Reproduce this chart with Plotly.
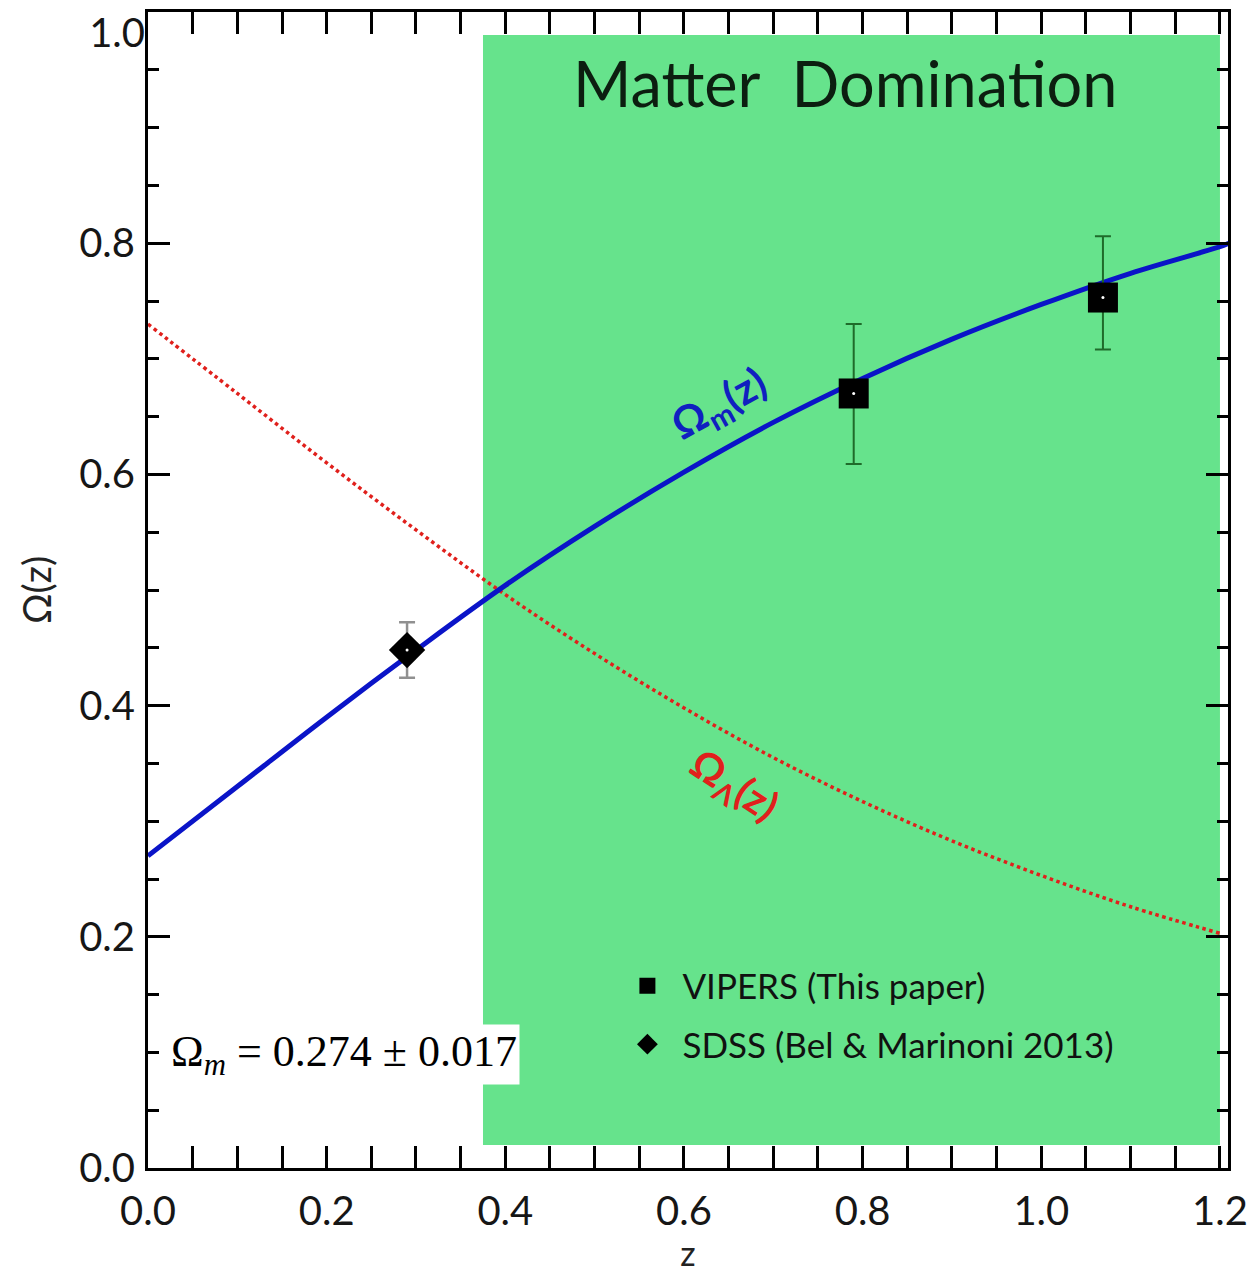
import plotly.graph_objects as go

# Curves
z_curve = [0.0, 0.1, 0.2, 0.3, 0.4, 0.5, 0.6, 0.7, 0.8, 0.9, 1.0, 1.1, 1.2, 1.21]
omega_m = [0.270, 0.330, 0.390, 0.448, 0.504, 0.555, 0.602, 0.645, 0.683, 0.717, 0.747, 0.774, 0.797, 0.800]
z_lambda = [0.0, 0.1, 0.2, 0.3, 0.4, 0.5, 0.6, 0.7, 0.8, 0.9, 1.0, 1.1, 1.2]
omega_l = [0.730, 0.670, 0.610, 0.552, 0.496, 0.445, 0.398, 0.355, 0.317, 0.283, 0.253, 0.226, 0.203]

# Data points
vipers_z = [0.790, 1.069]
vipers_om = [0.670, 0.753]
vipers_err_plus = [0.060, 0.053]
vipers_err_minus = [0.061, 0.045]

sdss_z = [0.290]
sdss_om = [0.448]
sdss_err = [0.024]

# Matter domination region
md_z = [0.375, 1.2]
md_om = [0.020, 0.980]

# Tick labels
x_ticks = [0, 0.2, 0.4, 0.6, 0.8, 1.0, 1.2]
x_labels = ["0.0", "0.2", "0.4", "0.6", "0.8", "1.0", "1.2"]
y_ticks = [0, 0.2, 0.4, 0.6, 0.8]
y_labels = ["0.0", "0.2", "0.4", "0.6", "0.8"]
y_top_tick = [1.0]
y_top_label = ["1.0"]

GREEN = "#66E38C"
FONT = "Lato"
TICKFONT = dict(family=FONT, size=40, color="#161616")

fig = go.Figure()

fig.add_shape(type="rect", xref="x", yref="y", x0=md_z[0], x1=md_z[1], y0=md_om[0], y1=md_om[1],
              fillcolor=GREEN, line=dict(width=0), layer="below")

fig.add_trace(go.Scatter(x=z_lambda, y=omega_l, mode="lines",
                         line=dict(color="#E0201C", width=3.5, dash="dot", shape="spline"),
                         showlegend=False, hoverinfo="skip"))
fig.add_trace(go.Scatter(x=z_curve, y=omega_m, mode="lines",
                         line=dict(color="#0A14C8", width=5, shape="spline"),
                         showlegend=False, hoverinfo="skip"))

fig.add_trace(go.Scatter(x=vipers_z, y=vipers_om, mode="markers", name="VIPERS (This paper)",
                         marker=dict(symbol="square", size=30, color="black"),
                         error_y=dict(type="data", array=vipers_err_plus, arrayminus=vipers_err_minus,
                                      color="#1F6B2A", thickness=2, width=8),
                         legendgroup="a"))
fig.add_trace(go.Scatter(x=sdss_z, y=sdss_om, mode="markers", name="SDSS (Bel & Marinoni 2013)",
                         marker=dict(symbol="diamond", size=28, color="black"),
                         error_y=dict(type="data", array=sdss_err, color="#909090", thickness=2.5, width=8),
                         legendgroup="b"))
fig.add_trace(go.Scatter(x=vipers_z + sdss_z, y=vipers_om + sdss_om, mode="markers",
                         marker=dict(size=3, color="white"), showlegend=False, hoverinfo="skip"))
# trace carrying the secondary axis for the top "1.0" label
fig.add_trace(go.Scatter(x=sdss_z, y=sdss_om, yaxis="y2", mode="markers",
                         marker=dict(size=3, color="white", opacity=0), showlegend=False, hoverinfo="skip"))

fig.add_annotation(x=0.780, y=0.939, xref="x", yref="y", text="Matter  Domination", showarrow=False,
                   font=dict(family=FONT, size=63, color="#0C1E10"))
fig.add_annotation(x=0.640, y=0.660, xref="x", yref="y", text="<b>Ω<sub>m</sub>(z)</b>", showarrow=False,
                   textangle=-29, font=dict(family=FONT, size=42, color="#1020C0"))
fig.add_annotation(x=0.655, y=0.330, xref="x", yref="y", text="<b>Ω<sub>Λ</sub>(z)</b>", showarrow=False,
                   textangle=33, font=dict(family=FONT, size=41, color="#E0201C"))
fig.add_annotation(x=0.219, y=0.098, xref="x", yref="y",
                   text="Ω<sub><i>m</i></sub> = 0.274 ± 0.017", showarrow=False, bgcolor="white",
                   font=dict(family="Liberation Serif", size=44, color="black"), borderpad=2)

axis_common = dict(showline=True, linecolor="black", linewidth=3, mirror="allticks", ticks="inside",
                   ticklen=22, tickwidth=2.5, tickcolor="black", showgrid=False, zeroline=False,
                   tickfont=TICKFONT, automargin=False,
                   minor=dict(ticks="inside", ticklen=11, tickwidth=2.5, tickcolor="black", showgrid=False))

fig.update_xaxes(range=[0, 1.209], tickvals=x_ticks, ticktext=x_labels, ticklabelstandoff=6,
                 title=dict(text="z", font=dict(family=FONT, size=34, color="#222"), standoff=4),
                 **axis_common)
fig.update_xaxes(minor_dtick=0.05)
fig.update_yaxes(range=[0, 1.0], tickvals=y_ticks, ticktext=y_labels, ticklabelstandoff=2,
                 title=dict(text="Ω(z)", font=dict(family=FONT, size=38, color="#222"), standoff=16),
                 **axis_common)
fig.update_yaxes(minor_dtick=0.05)

fig.update_layout(
    width=1247, height=1265, margin=dict(l=140, r=27, t=4, b=105, autoexpand=False),
    plot_bgcolor="white", paper_bgcolor="white",
    yaxis2=dict(overlaying="y", side="left", anchor="x", range=[0, 1.0], tickvals=y_top_tick,
                ticktext=y_top_label, showline=False, showgrid=False, zeroline=False, ticks="",
                tickfont=TICKFONT, ticklabelshift=21, ticklabelstandoff=2, ticklabeloverflow="allow",
                automargin=False),
    legend=dict(x=0.43, y=0.183, xanchor="left", yanchor="top", bgcolor="rgba(0,0,0,0)",
                font=dict(family=FONT, size=35, color="#111"), tracegroupgap=10,
                traceorder="grouped", itemsizing="trace", itemwidth=60))

fig.write_html("out.html")
